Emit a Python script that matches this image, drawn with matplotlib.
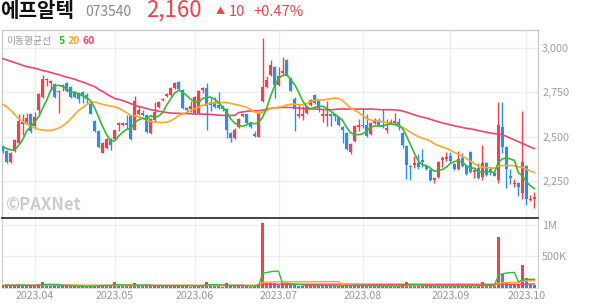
import matplotlib
matplotlib.use('Agg')
import matplotlib.pyplot as plt
import numpy as np
import pandas as pd

plt.rcParams['font.family'] = ['Noto Sans CJK KR', 'DejaVu Sans']

# ---------------- data ----------------
opens = [2445, 2420, 2355, 2420, 2465, 2570, 2580, 2625, 2560, 2650,
         2725, 2820, 2805, 2795, 2750, 2780, 2805, 2780, 2750, 2745,
         2750, 2735, 2685, 2590, 2530, 2410, 2435, 2485, 2485, 2565,
         2565, 2575, 2615, 2540, 2625, 2635, 2620, 2520, 2595, 2665,
         2705, 2730, 2735, 2775, 2810, 2765, 2660, 2655, 2635, 2635,
         2765, 2775, 2690, 2690, 2680, 2670, 2655, 2520, 2490, 2555,
         2615, 2625, 2575, 2515, 2500, 2700, 2780, 2850, 2895, 2790,
         2860, 2935, 2830, 2710, 2615, 2615, 2635, 2680, 2735, 2700,
         2615, 2615, 2625, 2625, 2610, 2555, 2520, 2415, 2475, 2555,
         2565, 2565, 2515, 2575, 2585, 2565, 2535, 2575, 2575, 2585,
         2520, 2445, 2335, 2340, 2350, 2365, 2335, 2310, 2255, 2270,
         2370, 2375, 2390, 2345, 2315, 2380, 2335, 2415, 2300, 2320,
         2270, 2350, 2315, 2295, 2255, 2555, 2440, 2280, 2230, 2240,
         2180, 2335, 2140, 2145]
highs = [2450, 2425, 2415, 2485, 2625, 2630, 2635, 2630, 2640, 2745,
         2850, 2830, 2820, 2800, 2765, 2795, 2810, 2785, 2755, 2750,
         2755, 2745, 2690, 2595, 2535, 2470, 2490, 2490, 2540, 2580,
         2580, 2620, 2620, 2730, 2675, 2650, 2625, 2605, 2695, 2700,
         2720, 2745, 2780, 2810, 2815, 2770, 2665, 2700, 2730, 2765,
         2780, 2800, 2725, 2725, 2750, 2675, 2660, 2525, 2550, 2605,
         2630, 2630, 2580, 2530, 2640, 3055, 2845, 2930, 2900, 2895,
         2950, 2940, 2835, 2725, 2680, 2670, 2680, 2710, 2740, 2705,
         2655, 2700, 2635, 2630, 2615, 2560, 2525, 2465, 2565, 2600,
         2660, 2625, 2580, 2605, 2605, 2655, 2600, 2600, 2635, 2605,
         2525, 2450, 2340, 2390, 2400, 2430, 2340, 2315, 2270, 2360,
         2390, 2415, 2415, 2350, 2420, 2410, 2340, 2420, 2315, 2350,
         2450, 2355, 2330, 2300, 2695, 2695, 2445, 2315, 2260, 2245,
         2645, 2340, 2170, 2185]
lows = [2405, 2350, 2350, 2415, 2460, 2510, 2570, 2520, 2545, 2635,
        2720, 2785, 2765, 2720, 2635, 2755, 2750, 2720, 2720, 2690,
        2690, 2690, 2625, 2525, 2435, 2405, 2430, 2425, 2485, 2530,
        2560, 2550, 2480, 2535, 2620, 2615, 2520, 2515, 2590, 2660,
        2700, 2725, 2730, 2770, 2765, 2655, 2635, 2640, 2625, 2630,
        2745, 2540, 2645, 2660, 2655, 2645, 2490, 2470, 2485, 2550,
        2610, 2570, 2550, 2500, 2495, 2695, 2775, 2845, 2720, 2785,
        2855, 2840, 2755, 2530, 2605, 2595, 2630, 2675, 2685, 2640,
        2580, 2560, 2560, 2590, 2560, 2465, 2425, 2400, 2470, 2530,
        2550, 2500, 2510, 2570, 2560, 2550, 2520, 2570, 2570, 2540,
        2435, 2260, 2255, 2325, 2315, 2330, 2310, 2250, 2240, 2265,
        2330, 2360, 2355, 2310, 2310, 2330, 2285, 2295, 2265, 2260,
        2255, 2280, 2285, 2275, 2240, 2405, 2210, 2230, 2215, 2165,
        2145, 2115, 2135, 2095]
closes = [2420, 2355, 2410, 2480, 2590, 2580, 2605, 2530, 2610, 2740,
          2825, 2825, 2815, 2725, 2760, 2790, 2755, 2725, 2725, 2710,
          2730, 2710, 2630, 2530, 2440, 2465, 2485, 2455, 2535, 2575,
          2575, 2565, 2485, 2700, 2650, 2620, 2525, 2600, 2640, 2695,
          2715, 2740, 2775, 2805, 2770, 2660, 2650, 2670, 2725, 2760,
          2775, 2675, 2680, 2665, 2660, 2655, 2535, 2490, 2540, 2600,
          2625, 2575, 2555, 2505, 2635, 2780, 2820, 2905, 2790, 2845,
          2870, 2845, 2760, 2655, 2625, 2625, 2675, 2705, 2690, 2660,
          2625, 2625, 2615, 2615, 2565, 2540, 2430, 2460, 2560, 2565,
          2560, 2505, 2575, 2595, 2565, 2555, 2550, 2585, 2590, 2555,
          2450, 2340, 2330, 2350, 2330, 2355, 2315, 2255, 2265, 2355,
          2380, 2385, 2360, 2315, 2375, 2335, 2290, 2300, 2310, 2265,
          2350, 2285, 2300, 2280, 2565, 2440, 2315, 2265, 2240, 2215,
          2355, 2150, 2150, 2160]
volumes_k = [30, 45, 25, 40, 45, 30, 25, 30, 35, 50,
             95, 40, 30, 35, 30, 20, 25, 20, 20, 15,
             20, 15, 25, 35, 40, 35, 25, 30, 95, 30,
             20, 25, 40, 70, 35, 20, 30, 25, 35, 30,
             25, 20, 30, 35, 30, 35, 20, 15, 25, 40,
             30, 95, 40, 20, 25, 15, 70, 30, 25, 30,
             20, 25, 15, 20, 60, 1030, 70, 75, 70, 45,
             65, 75, 45, 40, 25, 20, 30, 35, 45, 30,
             20, 35, 25, 20, 30, 35, 45, 30, 40, 25,
             35, 30, 25, 20, 25, 20, 30, 20, 15, 25,
             40, 90, 40, 25, 30, 25, 20, 30, 20, 35,
             25, 20, 25, 20, 30, 25, 20, 35, 15, 25,
             80, 35, 20, 25, 800, 220, 90, 55, 40, 45,
             357, 155, 55, 40]
ma5_head = [2440, 2432, 2425, 2425]
ma20_head = [2682, 2668, 2648, 2625, 2600, 2585, 2570, 2558, 2548, 2540,
             2537, 2535, 2535, 2540, 2548, 2560, 2578, 2600, 2625]
ma60_head = [2940, 2933, 2925, 2918, 2910, 2902, 2896, 2890, 2886, 2880,
             2873, 2868, 2862, 2855, 2850, 2842, 2836, 2830, 2824, 2815,
             2808, 2800, 2790, 2782, 2766, 2755, 2740, 2727, 2715, 2710,
             2704, 2695, 2686, 2678, 2670, 2665, 2658, 2652, 2648, 2643,
             2640, 2636, 2633, 2632, 2631, 2630, 2630, 2629, 2628, 2628,
             2627, 2626, 2625, 2623, 2621, 2620, 2619, 2619, 2620]
month_idx = [8, 28, 48, 69, 90, 112, 131]
month_labels = ['2023.04', '2023.05', '2023.06', '2023.07', '2023.08', '2023.09', '2023.10']
price_ticks = [2250, 2500, 2750, 3000]
vol_ticks = [500000, 1000000]
vol_tick_labels = ['500K', '1M']

# ---------------- styles ----------------
RED = '#f2404c'
BLUE = '#2b8df0'
GREEN = '#33bb33'
ORANGE = '#ffa726'
PINK = '#f2456c'
GRID = '#eeeeee'
W, H = 594, 304

o = np.array(opens, float); h = np.array(highs, float)
l = np.array(lows, float); c = np.array(closes, float)
v = np.array(volumes_k, float) * 1000
x = np.arange(len(c))
cs = pd.Series(c)


def ma(n, head):
    m = cs.rolling(n).mean().to_numpy()
    m[:len(head)] = head
    return m


ma5 = ma(5, ma5_head)
ma20 = ma(20, ma20_head)
ma60 = ma(60, ma60_head)

fig = plt.figure(figsize=(W / 100, H / 100), dpi=100)
fig.patch.set_facecolor('white')
L, R = 2 / W, 538 / W
ax = fig.add_axes([L, 1 - 217.5 / H, R - L, (217.5 - 30) / H])
axv = fig.add_axes([L, 1 - 287.5 / H, R - L, (287.5 - 218.5) / H])

xlim = (-0.2, 133.9)
up = c >= o
col = np.where(up, RED, BLUE)

# price panel
ax.vlines(x, l, h, colors=col, linewidth=1.0, zorder=3)
body_lo = np.minimum(o, c)
body_h = np.maximum(np.abs(c - o), 5)
ax.bar(x, body_h, bottom=body_lo, width=0.72, color=col, linewidth=0, zorder=4)
ax.plot(x, ma60, color=PINK, lw=1.2, zorder=5)
ax.plot(x, ma20, color=ORANGE, lw=1.2, zorder=5)
ax.plot(x, ma5, color=GREEN, lw=1.2, zorder=5)
ax.set_xlim(*xlim)
ax.set_ylim(2043, 3102)
ax.set_yticks(price_ticks)
ax.set_xticks(month_idx)
ax.grid(True, color=GRID, lw=1.0, zorder=0)
ax.set_axisbelow(True)
ax.yaxis.tick_right()
ax.tick_params(axis='y', length=0, pad=3, labelsize=7.8, labelcolor='#a0a0a0')
ax.set_yticklabels([f'{t:,}' for t in price_ticks])
ax.tick_params(axis='x', length=0, labelbottom=False)
for s in ['top', 'left', 'right']:
    ax.spines[s].set_color('#cccccc')
    ax.spines[s].set_linewidth(1.0)
ax.spines['bottom'].set_color('#333333')
ax.spines['bottom'].set_linewidth(1.3)

# volume panel
vcol = [RED] + [RED if v[i] >= v[i - 1] else BLUE for i in range(1, len(v))]
axv.bar(x, v, width=0.72, color=vcol, linewidth=0, zorder=3)
vs = pd.Series(v)
axv.plot(x, vs.rolling(60, min_periods=1).mean(), color=PINK, lw=1.0, zorder=4)
axv.plot(x, vs.rolling(20, min_periods=1).mean(), color=ORANGE, lw=1.0, zorder=4)
axv.plot(x, vs.rolling(5, min_periods=1).mean(), color=GREEN, lw=1.0, zorder=4)
axv.set_xlim(*xlim)
axv.set_ylim(0, 1.103e6)
axv.set_yticks(vol_ticks)
axv.set_yticklabels(vol_tick_labels)
axv.set_xticks(month_idx)
axv.set_xticklabels(month_labels)
axv.grid(True, color=GRID, lw=1.0, zorder=0)
axv.set_axisbelow(True)
axv.yaxis.tick_right()
axv.tick_params(axis='y', length=0, pad=3, labelsize=7.8, labelcolor='#a0a0a0')
axv.tick_params(axis='x', length=0, pad=2.5, labelsize=7.6, labelcolor='#999999')
for s in ['left', 'right']:
    axv.spines[s].set_color('#cccccc')
axv.spines['top'].set_visible(False)
axv.spines['bottom'].set_color('#dddddd')


def ftext(px, py, s, **kw):
    fig.text(px / W, 1 - py / H, s, va='center', ha='left', **kw)


ftext(0, 10.5, '에프알텍', fontsize=14.5, fontweight='bold', color='#111111')
ftext(85, 12.5, '073540', fontsize=10, color='#888888')
ftext(146, 10, '2,160', fontsize=16, color=RED)
ftext(216, 12, '▲', fontsize=6.5, color=RED)
ftext(229, 12.5, '10', fontsize=10.5, color=RED)
ftext(253, 12.5, '+0.47%', fontsize=10.5, color=RED)

ftext(6, 41, '이동평균선', fontsize=7, color='#999999')
ftext(58.5, 41, '5', fontsize=7.5, color=GREEN, fontweight='bold')
ftext(67.5, 41, '20', fontsize=7.5, color=ORANGE, fontweight='bold')
ftext(82.5, 41, '60', fontsize=7.5, color=PINK, fontweight='bold')

ftext(5, 205.5, '©PAXNet', fontsize=12, fontweight='bold', color='#cccccc')

fig.savefig('out.png', dpi=100)
